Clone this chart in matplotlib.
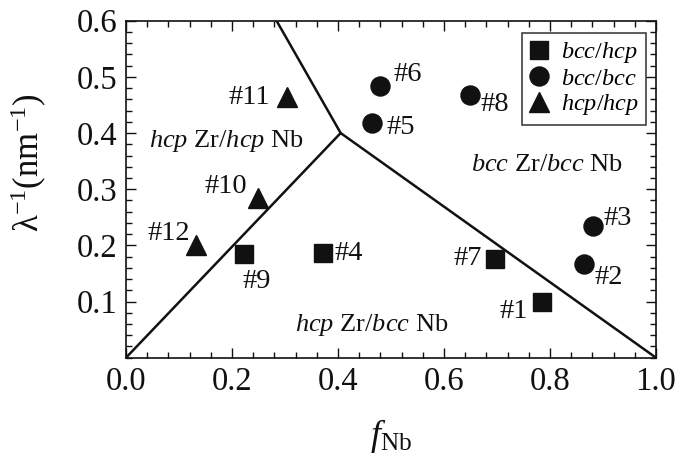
import matplotlib
matplotlib.use("Agg")
import matplotlib.pyplot as plt
from matplotlib.ticker import MultipleLocator

plt.rcParams['font.family'] = ['Liberation Serif', 'DejaVu Serif']
plt.rcParams['mathtext.fontset'] = 'custom'
plt.rcParams['mathtext.rm'] = 'Liberation Serif'
plt.rcParams['mathtext.it'] = 'Liberation Serif:italic'

# ---- data ----
sq_labels = ['#1', '#4', '#7', '#9']
sq_x = [0.785, 0.372, 0.696, 0.222]
sq_y = [0.100, 0.187, 0.176, 0.184]

ci_labels = ['#2', '#3', '#5', '#6', '#8']
ci_x = [0.864, 0.881, 0.465, 0.480, 0.649]
ci_y = [0.167, 0.234, 0.418, 0.483, 0.467]

tr_labels = ['#10', '#11', '#12']
tr_x = [0.249, 0.303, 0.133]
tr_y = [0.285, 0.464, 0.2005]

# phase boundaries
bound_x = [0.0, 0.405, 1.0]
bound_y = [0.0, 0.400, 0.0]
upper_x = [0.405, 0.284]
upper_y = [0.400, 0.600]

# label offsets (pixels) from the marker
offsets = {
    '#1': (-28, -10), '#2': (25, -14), '#3': (25, 8), '#4': (26, -1),
    '#5': (28, -5), '#6': (27, 12), '#7': (-27, 0), '#8': (25, -9),
    '#9': (13, -27), '#10': (-32, 11), '#11': (-37, 0), '#12': (-28, 12),
}

regions = [
    (r'$\mathit{hcp}$ Zr/$\mathit{hcp}$ Nb', 0.189, 0.386),
    (r'$\mathit{bcc}$ Zr/$\mathit{bcc}$ Nb', 0.795, 0.343),
    (r'$\mathit{hcp}$ Zr/$\mathit{bcc}$ Nb', 0.463, 0.058),
]

fig = plt.figure(figsize=(6.81, 4.59), dpi=100)
ax = fig.add_axes([126/681, (459-357.7)/459, (656-126)/681, (357.7-20.7)/459])

c = '#111111'
ax.plot(bound_x, bound_y, color=c, lw=1.8)
ax.plot(upper_x, upper_y, color=c, lw=1.8)

ax.plot(sq_x, sq_y, 's', ms=12.7, color=c, mec=c, label=r'$\mathit{bcc/hcp}$')
ax.plot(ci_x, ci_y, 'o', ms=13.7, color=c, mec=c, label=r'$\mathit{bcc/bcc}$')
ax.plot(tr_x, tr_y, '^', ms=15, color=c, mec=c, label=r'$\mathit{hcp/hcp}$')

for labs, xs, ys in [(sq_labels, sq_x, sq_y), (ci_labels, ci_x, ci_y), (tr_labels, tr_x, tr_y)]:
    for l, x, y in zip(labs, xs, ys):
        ax.annotate(l, (x, y), xytext=offsets[l], textcoords='offset pixels',
                    ha='center', va='center', fontsize=20.5, color=c)

for t, x, y in regions:
    ax.text(x, y, t, ha='center', va='center', fontsize=19, color=c)

ax.set_xlim(0, 1.0)
ax.set_ylim(0, 0.6)
ax.xaxis.set_minor_locator(MultipleLocator(0.04))
ax.yaxis.set_minor_locator(MultipleLocator(0.02))
ax.set_xticks([0.0, 0.2, 0.4, 0.6, 0.8, 1.0])
ax.set_xticklabels(['0.0', '0.2', '0.4', '0.6', '0.8', '1.0'])
ax.set_yticks([0.1, 0.2, 0.3, 0.4, 0.5, 0.6])
ax.set_yticklabels(['0.1', '0.2', '0.3', '0.4', '0.5', '0.6'])
ax.tick_params(which='both', direction='in', top=True, right=True, colors=c, width=1.0)
ax.tick_params(which='major', length=7, labelsize=23.5, pad=6)
ax.tick_params(which='minor', length=4.5)
for s in ax.spines.values():
    s.set_linewidth(1.2)
    s.set_color(c)

ax.set_xlabel(r'$f_{\mathrm{Nb}}$', fontsize=26, color=c)
ax.xaxis.set_label_coords(0.5, -0.175)
ax.set_ylabel(r'λ$^{\mathrm{-1}}$(nm$^{\mathrm{-1}}$)', fontsize=25, color=c)
ax.yaxis.set_label_coords(-0.145, 0.58)

leg = ax.legend(loc='upper right', bbox_to_anchor=(0.981, 0.963), borderaxespad=0,
                fontsize=17.5, frameon=True, fancybox=False, edgecolor=c,
                handlelength=0.8, handletextpad=0.5, labelspacing=0.1,
                borderpad=0.3, numpoints=1)
leg.get_frame().set_linewidth(1.2)

fig.savefig('out.png', dpi=100)
